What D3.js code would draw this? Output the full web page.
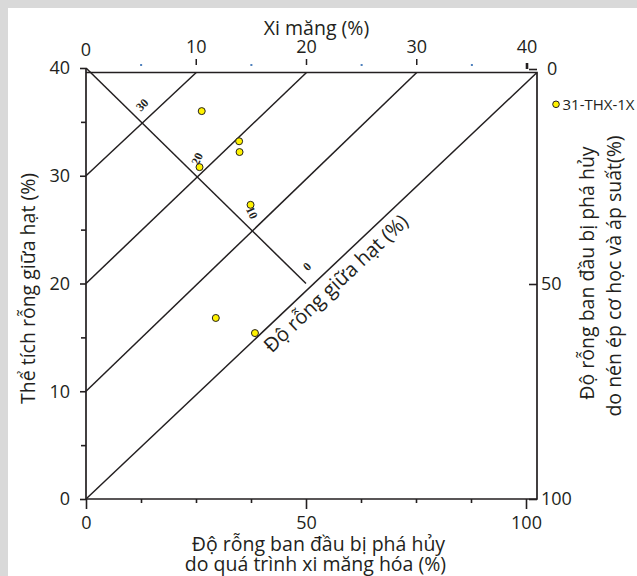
<!DOCTYPE html>
<html><head><meta charset="utf-8">
<script src="https://cdn.jsdelivr.net/npm/d3@7"></script>
<style>
body{margin:0;background:#fff}
svg{display:block}
text{font-family:"Open Sans",sans-serif;fill:#231f20}
</style>
</head><body>
<svg id="chart" width="637" height="576"></svg>
<script>
// ---------- data ----------
const bottomTicks = [0, 50, 100];
const bottomMinorTicks = [12.5, 25, 37.5, 62.5, 75, 87.5];
const leftTicks = [0, 10, 20, 30, 40];
const leftMinorTicks = [5, 15, 25, 35];
const topLabelTicks = [0, 10, 20, 30, 40];
const topMajorTicks = [10, 20, 30];
const topDotTicks = [5, 15, 25, 35];
const rightTicks = [0, 50, 100];
const igvLineStarts = [0, 10, 20, 30];
const porosityLabels = ["30", "20", "10", "0"];
const porosityFractions = [0.25, 0.5, 0.75, 1];
const porosityLineStart = [0, 40];
const porosityLineEnd = [50, 20];
const sampleX = [26.3, 34.8, 34.9, 25.8, 37.4, 29.5, 38.4];
const sampleY = [36.0, 33.2, 32.2, 30.8, 27.3, 16.8, 15.4];
const seriesName = "31-THX-1X";

// ---------- layout ----------
const W = 637, H = 576;
const L = 86, R = 537, T = 72.5, B = 499;
const ink = "#231f20";
const svg = d3.select("#chart");

svg.append("rect").attr("width", W).attr("height", H).attr("fill", "#d9d9d9");
svg.append("rect").attr("x", 8).attr("y", 8).attr("width", W - 8).attr("height", H - 8).attr("fill", "#fff");

const x = d3.scaleLinear([0, 100], [L, 526]);
const y = d3.scaleLinear([0, 40], [B, 68]);
const xTop = d3.scaleLinear([0, 40], [L, 527]);
const yRight = d3.scaleLinear([0, 100], [69, B]);

const g = svg.append("g");

// frame lines
g.append("path").attr("d", `M${L},${y(40)}V${B}H${R}V${T}H${L}`)
  .attr("fill", "none").attr("stroke", ink).attr("stroke-width", 1.7);

// diagonal IGV lines
igvLineStarts.forEach(v => {
  const x2 = v === 0 ? R : xTop(40 - v);
  g.append("line").attr("x1", x(0)).attr("y1", y(v)).attr("x2", x2).attr("y2", T)
    .attr("stroke", ink).attr("stroke-width", 1.5);
});
// porosity (descending) line
g.append("line")
  .attr("x1", x(porosityLineStart[0])).attr("y1", y(porosityLineStart[1]))
  .attr("x2", x(porosityLineEnd[0])).attr("y2", y(porosityLineEnd[1]))
  .attr("stroke", ink).attr("stroke-width", 1.5);

// porosity labels
const labelRot = [-45, -65, 65, -45];
porosityLabels.forEach((lab, i) => {
  const t = porosityFractions[i];
  const px = x(porosityLineStart[0] + (porosityLineEnd[0] - porosityLineStart[0]) * t) + 1;
  const py = y(porosityLineStart[1] + (porosityLineEnd[1] - porosityLineStart[1]) * t) - 17;
  g.append("text").attr("transform", `translate(${px},${py}) rotate(${labelRot[i]})`)
    .attr("text-anchor", "middle").attr("dy", "0.35em")
    .style("font-family", "'Liberation Serif',serif").style("font-weight", "bold").style("font-size", "12px")
    .text(lab);
});

// bottom axis
const ax1 = g.append("g").attr("transform", `translate(0,${B})`)
  .call(d3.axisBottom(x).tickValues(bottomTicks).tickSize(10).tickSizeOuter(0).tickPadding(7.5));
const ax1m = g.append("g").attr("transform", `translate(0,${B})`)
  .call(d3.axisBottom(x).tickValues(bottomMinorTicks).tickSize(4).tickSizeOuter(0).tickFormat(""));
// left axis
const ax2 = g.append("g").attr("transform", `translate(${L},0)`)
  .call(d3.axisLeft(y).tickValues(leftTicks).tickSize(6).tickSizeOuter(0).tickPadding(10));
const ax2m = g.append("g").attr("transform", `translate(${L},0)`)
  .call(d3.axisLeft(y).tickValues(leftMinorTicks).tickSize(5).tickSizeOuter(0).tickFormat(""));
// right axis
const ax3 = g.append("g").attr("transform", `translate(${R},0)`)
  .call(d3.axisRight(yRight).tickValues(rightTicks).tickSize(-8).tickSizeOuter(0).tickPadding(5));
[ax1, ax1m, ax2, ax2m, ax3].forEach(a => {
  a.select(".domain").remove();
  a.selectAll("line").attr("stroke", ink).attr("stroke-width", 1.6);
  a.selectAll("text").style("font-family", "'Open Sans',sans-serif").style("font-size", "18px").attr("fill", ink);
});
ax3.selectAll("text").attr("x", d => d === 0 ? 10 : 4);

// top axis (cement)
g.selectAll(".tl").data(topLabelTicks).join("text").attr("class", "tl")
  .attr("x", d => xTop(d)).attr("y", d => d === 0 ? 55.5 : 52.5).attr("text-anchor", "middle")
  .style("font-size", "18px").text(d => d);
g.selectAll(".tt").data(topMajorTicks).join("line").attr("class", "tt")
  .attr("x1", d => xTop(d)).attr("x2", d => xTop(d)).attr("y1", 59).attr("y2", 65)
  .attr("stroke", ink).attr("stroke-width", 1.5);
g.append("line").attr("x1", xTop(40)).attr("x2", xTop(40)).attr("y1", 63).attr("y2", 69)
  .attr("stroke", ink).attr("stroke-width", 2.6);
g.selectAll(".td").data(topDotTicks).join("rect").attr("class", "td")
  .attr("x", d => xTop(d) - 1).attr("y", 64).attr("width", 2).attr("height", 2).attr("fill", "#4f81bd");

// titles
g.append("text").attr("x", 316.5).attr("y", 35).attr("text-anchor", "middle")
  .style("font-size", "19.5px").text("Xi măng (%)");
g.append("text").attr("transform", "translate(35,288.5) rotate(-90)").attr("text-anchor", "middle")
  .style("font-size", "19.5px").text("Thể tích rỗng giữa hạt (%)");
g.append("text").attr("x", 318.5).attr("y", 551).attr("text-anchor", "middle")
  .style("font-size", "19.5px").text("Độ rỗng ban đầu bị phá hủy");
g.append("text").attr("x", 315.5).attr("y", 571).attr("text-anchor", "middle")
  .style("font-size", "19.5px").text("do quá trình xi măng hóa (%)");
g.append("text").attr("transform", "translate(594,273) rotate(-90)").attr("text-anchor", "middle")
  .style("font-size", "19.5px").text("Độ rỗng ban đầu bị phá hủy");
g.append("text").attr("transform", "translate(621,276) rotate(-90)").attr("text-anchor", "middle")
  .style("font-size", "19.5px").text("do nén ép cơ học và áp suất(%)");

// diagonal title along the 0 line
{
  const dx = R - L, dy = T - B;
  const len = Math.hypot(dx, dy);
  const ang = Math.atan2(dy, dx) * 180 / Math.PI;
  const s = 0.531, off = 22;
  const nx = -dy / len, ny = dx / len;
  const cx = L + dx * s + nx * off, cy = B + dy * s + ny * off;
  g.append("text").attr("transform", `translate(${cx},${cy}) rotate(${ang})`)
    .attr("text-anchor", "middle").style("font-size", "20px").text("Độ rỗng giữa hạt (%)");
}

// samples
g.selectAll(".pt").data(sampleX.map((v, i) => [v, sampleY[i]])).join("circle").attr("class", "pt")
  .attr("cx", d => x(d[0])).attr("cy", d => y(d[1])).attr("r", 3.5)
  .attr("fill", "#fff200").attr("stroke", ink).attr("stroke-width", 1);

// legend
g.append("circle").attr("cx", 556).attr("cy", 104.3).attr("r", 3.3)
  .attr("fill", "#fff200").attr("stroke", ink).attr("stroke-width", 1);
g.append("text").attr("x", 562.5).attr("y", 109.6).style("font-size", "15px").text(seriesName);
</script>
</body></html>
